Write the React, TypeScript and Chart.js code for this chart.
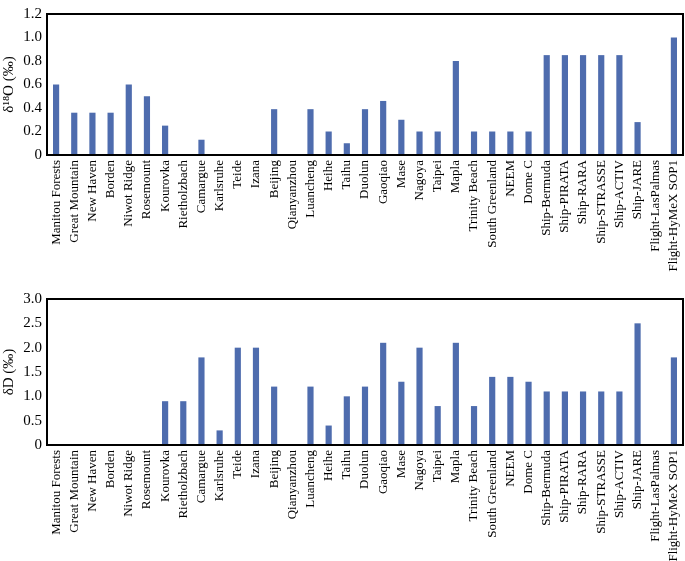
import React, { useEffect, useRef } from "react";
import { Chart, registerables } from "chart.js";

Chart.register(...registerables);

const sites: string[] = [
  "Manitou Forests", "Great Mountain", "New Haven", "Borden", "Niwot Ridge", "Rosemount",
  "Kourovka", "Rietholzbach", "Camargue", "Karlsruhe", "Teide", "Izana", "Beijing",
  "Qianyanzhou", "Luancheng", "Heihe", "Taihu", "Duolun", "Gaoqiao", "Mase", "Nagoya",
  "Taipei", "Mapla", "Trinity Beach", "South Greenland", "NEEM", "Dome C", "Ship-Bermuda",
  "Ship-PIRATA", "Ship-RARA", "Ship-STRASSE", "Ship-ACTIV", "Ship-JARE", "Flight-LasPalmas",
  "Flight-HyMeX SOP1",
];

const d18OValues: number[] = [
  0.6, 0.36, 0.36, 0.36, 0.6, 0.5, 0.25, 0, 0.13, 0, 0, 0, 0.39, 0, 0.39, 0.2, 0.1,
  0.39, 0.46, 0.3, 0.2, 0.2, 0.8, 0.2, 0.2, 0.2, 0.2, 0.85, 0.85, 0.85, 0.85, 0.85,
  0.28, 0, 1.0,
];

const dDValues: number[] = [
  0, 0, 0, 0, 0, 0, 0.9, 0.9, 1.8, 0.3, 2.0, 2.0, 1.2, 0, 1.2, 0.4, 1.0,
  1.2, 2.1, 1.3, 2.0, 0.8, 2.1, 0.8, 1.4, 1.4, 1.3, 1.1, 1.1, 1.1, 1.1, 1.1,
  2.5, 0, 1.8,
];

const d18OMax = 1.2;
const d18OStep = 0.2;
const dDMax = 3;
const dDStep = 0.5;

const BAR_COLOR = "#4e6cae";
const FONT = "Liberation Serif";

const framePlugin = {
  id: "frame",
  afterDraw(chart: any) {
    const { ctx, chartArea } = chart;
    ctx.save();
    ctx.strokeStyle = "#000";
    ctx.lineWidth = 2;
    ctx.strokeRect(chartArea.left, chartArea.top, chartArea.right - chartArea.left, chartArea.bottom - chartArea.top);
    ctx.restore();
  },
};

const xLabelPlugin = {
  id: "xLabels",
  afterDraw(chart: any) {
    const { ctx, chartArea } = chart;
    const xScale = chart.scales.x;
    const labels: string[] = chart.data.labels;
    ctx.save();
    ctx.fillStyle = "#000";
    ctx.font = `13px "${FONT}", serif`;
    ctx.textAlign = "right";
    ctx.textBaseline = "middle";
    labels.forEach((label, i) => {
      const x = xScale.getPixelForTick(i);
      const y = chartArea.bottom + 5;
      ctx.save();
      ctx.translate(x, y);
      ctx.rotate(-Math.PI / 2);
      ctx.fillText(label, 0, 0);
      ctx.restore();
    });
    ctx.restore();
  },
};

function BarPanel(props: {
  values: number[];
  max: number;
  step: number;
  title: string;
  height: number;
  padTop: number;
  xAxisHeight: number;
}) {
  const ref = useRef<HTMLCanvasElement>(null);
  useEffect(() => {
    if (!ref.current) return;
    const chart = new Chart(ref.current, {
      type: "bar",
      data: {
        labels: sites,
        datasets: [
          {
            data: props.values,
            backgroundColor: BAR_COLOR,
            borderWidth: 0,
            barPercentage: 0.34,
            categoryPercentage: 1,
          },
        ],
      },
      options: {
        animation: false,
        responsive: false,
        maintainAspectRatio: false,
        layout: { padding: { top: props.padTop, right: 2, left: 0, bottom: 0 } },
        plugins: { legend: { display: false }, tooltip: { enabled: false } },
        scales: {
          x: {
            grid: { display: false, drawTicks: false },
            border: { display: false },
            ticks: { display: false, autoSkip: false },
            afterFit: (scale: any) => {
              scale.height = props.xAxisHeight;
            },
          },
          y: {
            min: 0,
            max: props.max,
            grid: { display: false, drawTicks: false },
            border: { display: false },
            ticks: {
              stepSize: props.step,
              color: "#000",
              padding: 5,
              font: { family: FONT, size: 15 },
            },
            title: {
              display: true,
              text: props.title,
              color: "#000",
              padding: { top: 0, bottom: 0 },
              font: { family: FONT, size: 15 },
            },
            afterFit: (scale: any) => {
              scale.width = 47;
            },
          },
        },
      },
      plugins: [framePlugin, xLabelPlugin],
    });
    return () => chart.destroy();
  }, []);
  return <canvas ref={ref} width={685} height={props.height} style={{ display: "block", width: 685, height: props.height }} />;
}

export default function App() {
  return (
    <div style={{ position: "absolute", left: 0, top: 0, width: 685, height: 561, background: "#fff" }}>
      <BarPanel values={d18OValues} max={d18OMax} step={d18OStep} title="δ¹⁸O (‰)" height={285} padTop={6} xAxisHeight={130} />
      <BarPanel values={dDValues} max={dDMax} step={dDStep} title="δD (‰)" height={276} padTop={10} xAxisHeight={116} />
    </div>
  );
}
